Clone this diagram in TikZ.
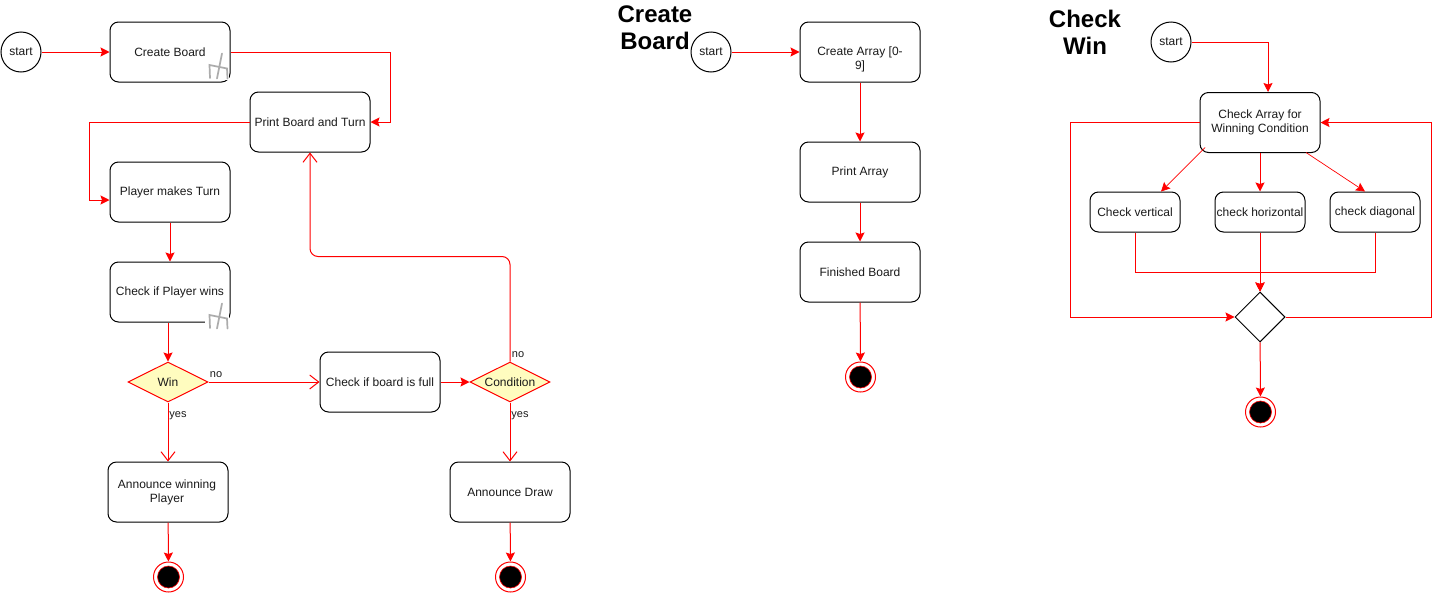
\documentclass[tikz,border=0pt]{standalone}
\usepackage{fontspec}
\setmainfont{Liberation Sans}
\usetikzlibrary{arrows.meta,shapes.geometric,calc}
\definecolor{txt}{HTML}{1A1A1A}
\tikzset{
  act/.style={draw=black,line width=1pt,fill=white,rounded corners=8.5pt,minimum width=120pt,minimum height=60pt,inner sep=0pt,align=center,text=txt,font=\fontsize{12}{14}\selectfont},
  small/.style={act,minimum width=90pt,minimum height=40pt},
  startn/.style={draw=black,line width=1pt,fill=white,circle,minimum size=40pt,inner sep=0pt,text=txt,font=\fontsize{12}{14}\selectfont},
  dec/.style={diamond,aspect=2,draw=red,line width=1pt,fill=yellow!25!white,minimum width=80pt,minimum height=40pt,inner sep=0pt,text=txt,font=\fontsize{12}{14}\selectfont},
  merge/.style={diamond,aspect=1,draw=black,line width=1pt,fill=white,minimum width=50pt,minimum height=50pt,inner sep=0pt},
  endn/.style={circle,draw=red,line width=1pt,fill=white,minimum size=30pt,inner sep=0pt},
  enddot/.style={circle,draw=red,line width=0.6pt,fill=black,minimum size=22pt,inner sep=0pt},
  title/.style={font=\fontsize{24}{27}\selectfont\bfseries,align=center,text=black},
  lbl/.style={font=\fontsize{11}{13}\selectfont,text=txt,inner sep=0pt},
  flow/.style={draw=red,line width=1pt,-{Stealth[length=9pt,width=9pt,inset=1.5pt]}},
  open/.style={draw=red,line width=1pt,-{Straight Barb[length=9pt,width=14pt]}},
  forkl/.style={draw=gray!65,line width=1.7pt,line cap=round},
}
\newcommand{\forkicon}[2]{%
  \begin{scope}[shift={(#1,#2)}]
    \fill[white] (-2,0) rectangle (22,27);
    \draw[forkl] (15,0.5) -- (10,25.5);
    \draw[forkl] (3,25) -- (2.5,12) -- (20,15.5) -- (20.5,25.5);
  \end{scope}}
\begin{document}
\begin{tikzpicture}[x=1pt,y=-1pt]
\useasboundingbox (0,0) rectangle (1440,592);
% left diagram
\node[startn] (s1) at (21,52) {start};
\node[act] (cb) at (170,52) {Create Board};
\node[act] (pb) at (310,122) {Print Board and Turn};
\node[act] (pt) at (170,192) {Player makes Turn};
\node[act] (cw) at (170,292) {Check if Player wins};
\node[dec] (win) at (168,382) {Win};
\node[act] (cf) at (380,382) {Check if board is full};
\node[dec] (cond) at (510,382) {Condition};
\node[act] (aw) at (168,492) {\hspace*{-2pt}Announce winning\\\hspace*{-2pt}Player};
\node[act] (ad) at (510,492) {Announce Draw};
\node[endn] (e1) at (168.5,577) {};
\node[enddot] at (e1) {};
\node[endn] (e2) at (510.5,577) {};
\node[enddot] at (e2) {};
\forkicon{207}{53}
\forkicon{207}{303}
\draw[flow] (s1) -- (cb);
\draw[flow] (cb.east) -- ++(160,0) |- (pb.east);
\draw[flow] (pb.west) -- ++(-160,0) |- ([yshift=-8pt]pt.west);
\draw[flow] (pt) -- (cw);
\draw[flow] ([xshift=-2pt]cw.south) -- (win.north);
\draw[open] (win) -- (aw);
\draw[open] (win) -- (cf);
\draw[flow] (cf) -- (cond);
\draw[open] (cond) -- (ad);
\draw[open,rounded corners=8pt] (cond.north) -- ++(0,-105) -| (pb.south);
\draw[flow] (aw) -- (e1);
\draw[flow] (ad) -- (e2);
\node[lbl] (l1) at (216,375) {no};
\node[lbl] (l2) at (178,416) {yes};
\node[lbl] (l3) at (518,355) {no};
\node[lbl] (l4) at (520,416) {yes};
% middle diagram
\node[title] (t1) at (655,27.5) {Create\\Board};
\node[startn] (s2) at (711,52) {start};
\node[act] (ca) at (860,52) {\rule{0pt}{22.5pt}Create Array [0-\\9]};
\node[act] (pa) at (860,172) {Print Array};
\node[act] (fb) at (860,272) {Finished Board};
\node[endn] (e3) at (860.5,377) {};
\node[enddot] at (e3) {};
\draw[flow] (s2) -- (ca);
\draw[flow] (ca) -- (pa);
\draw[flow] (pa) -- (fb);
\draw[flow] (fb) -- (e3);
% right diagram
\node[title] (t2) at (1085,32.5) {Check\\Win};
\node[startn] (s3) at (1171,42) {start};
\node[act] (ck) at (1260,122.5) {Check Array for\\Winning Condition};
\node[small] (cv) at (1135,212) {Check vertical};
\node[small] (ch) at (1260,212) {check horizontal};
\node[small] (cd) at (1375,212) {check diagonal};
\node[merge] (m) at (1260,317) {};
\node[endn] (e4) at (1260.5,412) {};
\node[enddot] at (e4) {};
\draw[flow] (s3.east) -| ([xshift=8pt]ck.north);
\draw[flow,line width=0.7pt] ([shift={(-55pt,-25pt)}]ck.center) -- ([xshift=26pt]cv.north);
\draw[flow] (ck) -- (ch);
\draw[flow,line width=0.7pt] ([shift={(46pt,-30pt)}]ck.center) -- ([xshift=-10pt]cd.north);
\draw[flow] (cv.south) |- ++(125,40) -- (m.north);
\draw[flow] (ch) -- (m);
\draw[flow] (cd.south) |- ++(-115,40) -- (m.north);
\draw[flow] (ck.west) -- ++(-129,0) |- (m.west);
\draw[flow] (m.east) -- ++(146,0) |- (ck.east);
\draw[flow] (m) -- (e4);
\end{tikzpicture}
\end{document}
